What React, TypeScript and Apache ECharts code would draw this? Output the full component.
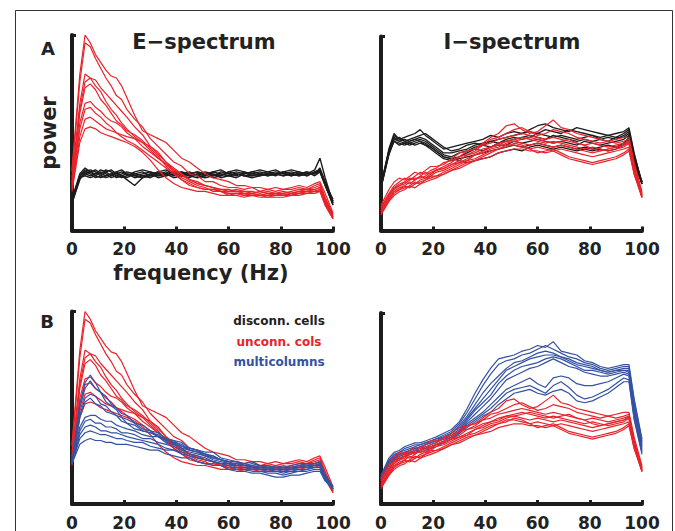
import React, { useEffect, useRef } from "react";
import * as echarts from "echarts";

// frequency sample points (Hz)
const FREQ = [0, 3, 5, 7, 9, 11, 13, 15, 17, 19, 21, 24, 27, 30, 33, 36, 39, 42, 45, 48, 51, 54, 57, 60, 63, 66, 69, 72, 75, 78, 81, 84, 87, 90, 93, 95, 97, 100];
const X_TICK_STEP = 20;

// E-spectrum, disconnected cells (black)
const E_DISCONN: number[][] = [
  [15, 28, 31, 30, 29, 31, 30, 28, 29, 30, 29, 28, 29, 30, 29, 28, 29, 30, 29, 28, 29, 30, 31, 29, 30, 29, 30, 31, 30, 29, 30, 31, 30, 29, 31, 37, 27, 14],
  [14, 27, 29, 30, 31, 29, 28, 29, 30, 28, 27, 29, 30, 28, 28, 29, 30, 28, 27, 29, 28, 29, 28, 30, 29, 28, 29, 30, 29, 30, 29, 28, 29, 30, 29, 32, 25, 15],
  [16, 28, 30, 29, 27, 28, 30, 31, 29, 28, 26, 23, 27, 29, 30, 31, 29, 28, 29, 30, 29, 28, 29, 28, 27, 29, 30, 29, 28, 29, 28, 29, 30, 28, 30, 31, 24, 13],
  [15, 27, 28, 27, 28, 30, 29, 27, 28, 29, 30, 29, 28, 27, 29, 30, 28, 29, 30, 28, 27, 28, 30, 29, 28, 30, 29, 28, 29, 28, 30, 29, 28, 29, 29, 30, 23, 14],
  [14, 26, 30, 31, 30, 28, 27, 28, 30, 31, 29, 27, 28, 29, 27, 28, 29, 30, 28, 29, 30, 29, 27, 28, 29, 28, 28, 29, 30, 31, 29, 30, 29, 28, 30, 31, 24, 16],
  [15, 27, 29, 28, 29, 29, 31, 30, 28, 27, 28, 30, 31, 30, 28, 29, 27, 28, 29, 30, 29, 27, 28, 30, 31, 30, 28, 29, 28, 29, 30, 28, 29, 30, 28, 30, 23, 13],
  [16, 29, 32, 30, 28, 27, 28, 29, 27, 28, 29, 28, 27, 28, 30, 29, 30, 29, 28, 27, 28, 30, 29, 28, 29, 28, 27, 28, 29, 29, 28, 29, 28, 29, 29, 31, 24, 15],
];

// E-spectrum, unconnected columns (red)
const E_UNCONN: number[][] = [
  [31, 80, 100, 96, 90, 86, 82, 79, 78, 74, 68, 59, 51, 49, 47, 45, 41, 37, 35, 32, 29, 27, 26, 25, 23, 23, 22, 22, 21, 22, 21, 22, 23, 22, 24, 25, 19, 9],
  [30, 76, 96, 94, 88, 83, 78, 74, 69, 67, 62, 57, 53, 47, 43, 39, 35, 33, 29, 28, 25, 25, 23, 22, 22, 21, 22, 20, 21, 20, 21, 21, 22, 21, 23, 24, 17, 8],
  [27, 65, 80, 78, 77, 73, 70, 67, 64, 61, 58, 53, 49, 43, 40, 35, 31, 29, 26, 24, 23, 22, 21, 20, 21, 20, 20, 19, 20, 19, 19, 20, 21, 21, 22, 23, 16, 7],
  [25, 62, 76, 78, 74, 71, 66, 62, 59, 55, 52, 48, 45, 41, 37, 34, 30, 27, 25, 23, 22, 20, 20, 19, 19, 18, 19, 18, 18, 19, 18, 19, 20, 20, 21, 22, 15, 7],
  [24, 60, 73, 75, 72, 67, 64, 60, 56, 54, 51, 49, 46, 42, 38, 33, 29, 26, 24, 22, 21, 21, 20, 18, 19, 19, 18, 18, 19, 18, 19, 18, 19, 20, 20, 21, 14, 6],
  [23, 55, 65, 66, 63, 61, 58, 56, 55, 53, 50, 47, 43, 40, 37, 34, 31, 28, 26, 25, 23, 22, 21, 21, 20, 20, 19, 20, 19, 19, 20, 19, 20, 21, 21, 22, 16, 8],
  [22, 52, 62, 63, 60, 58, 55, 53, 50, 49, 48, 47, 45, 43, 39, 35, 32, 29, 26, 24, 23, 22, 20, 20, 20, 19, 19, 18, 18, 18, 18, 19, 19, 20, 20, 21, 14, 7],
  [21, 48, 57, 58, 56, 54, 52, 51, 50, 48, 46, 44, 41, 38, 35, 32, 29, 26, 23, 22, 21, 21, 20, 19, 19, 18, 18, 18, 17, 18, 18, 18, 19, 19, 20, 20, 13, 6],
  [20, 45, 52, 53, 52, 50, 49, 48, 47, 46, 45, 43, 40, 36, 31, 27, 24, 22, 21, 20, 20, 19, 18, 18, 18, 17, 18, 17, 17, 17, 17, 18, 18, 19, 19, 20, 13, 6],
];

// E-spectrum, multicolumns (blue)
const E_MULTI: number[][] = [
  [21, 52, 63, 67, 63, 58, 56, 52, 50, 47, 46, 42, 41, 38, 37, 34, 33, 32, 29, 28, 27, 27, 24, 23, 22, 21, 22, 20, 20, 19, 19, 20, 21, 21, 21, 22, 15, 9],
  [21, 50, 60, 64, 60, 58, 53, 51, 49, 45, 44, 42, 39, 38, 35, 34, 33, 30, 29, 28, 26, 25, 23, 22, 22, 20, 21, 20, 19, 20, 19, 19, 20, 21, 20, 21, 15, 9],
  [21, 46, 55, 57, 56, 52, 51, 48, 46, 45, 42, 41, 38, 37, 36, 33, 32, 31, 28, 27, 26, 24, 23, 22, 20, 21, 19, 19, 18, 19, 18, 18, 19, 19, 20, 20, 14, 8],
  [21, 45, 53, 55, 52, 51, 48, 47, 46, 43, 42, 39, 38, 37, 35, 33, 32, 29, 28, 27, 25, 24, 23, 21, 21, 20, 19, 20, 18, 18, 17, 18, 19, 19, 20, 20, 14, 9],
  [21, 40, 45, 46, 46, 44, 43, 43, 41, 40, 39, 38, 36, 35, 35, 32, 31, 30, 28, 27, 26, 24, 23, 22, 22, 20, 20, 19, 19, 18, 18, 19, 19, 20, 20, 21, 14, 8],
  [21, 38, 43, 44, 42, 42, 40, 40, 39, 37, 37, 36, 34, 34, 32, 31, 30, 28, 27, 26, 25, 23, 22, 21, 20, 20, 19, 18, 18, 17, 17, 17, 18, 18, 19, 19, 13, 8],
  [21, 36, 40, 41, 40, 38, 38, 37, 37, 36, 35, 34, 33, 32, 31, 29, 28, 27, 26, 25, 24, 22, 21, 21, 19, 19, 18, 18, 17, 17, 16, 17, 17, 18, 19, 19, 13, 8],
  [21, 34, 37, 38, 37, 36, 36, 35, 34, 34, 33, 32, 32, 30, 29, 28, 28, 26, 25, 24, 23, 22, 21, 20, 18, 18, 17, 17, 16, 16, 15, 16, 17, 17, 18, 18, 12, 8],
  [21, 31, 33, 34, 33, 33, 32, 32, 31, 31, 31, 30, 29, 28, 28, 26, 25, 24, 24, 22, 21, 20, 20, 18, 17, 17, 16, 16, 15, 14, 14, 15, 15, 16, 17, 17, 12, 8],
];

// I-spectrum, disconnected cells (black)
const I_DISCONN: number[][] = [
  [23, 42, 50, 47, 48, 49, 50, 52, 49, 47, 45, 42, 43, 44, 45, 46, 47, 49, 48, 50, 51, 50, 52, 54, 55, 53, 52, 51, 53, 52, 51, 50, 49, 50, 51, 53, 40, 24],
  [22, 41, 49, 47, 46, 47, 48, 49, 50, 48, 46, 43, 41, 42, 44, 45, 44, 46, 47, 48, 49, 50, 51, 50, 52, 51, 50, 52, 51, 50, 49, 48, 49, 48, 50, 52, 39, 25],
  [23, 40, 48, 46, 47, 46, 47, 48, 47, 45, 43, 40, 40, 41, 42, 44, 45, 46, 45, 47, 48, 47, 48, 50, 49, 48, 49, 48, 47, 48, 49, 47, 48, 47, 49, 51, 38, 24],
  [24, 41, 47, 48, 46, 45, 46, 47, 46, 44, 42, 39, 38, 40, 41, 43, 44, 43, 45, 46, 47, 48, 49, 48, 47, 49, 48, 47, 46, 47, 46, 47, 46, 48, 48, 50, 37, 25],
  [22, 39, 47, 46, 45, 46, 47, 46, 45, 43, 41, 38, 37, 38, 40, 42, 41, 43, 44, 44, 46, 45, 46, 47, 46, 45, 46, 45, 44, 46, 45, 44, 45, 46, 47, 49, 36, 24],
  [23, 40, 46, 45, 44, 45, 44, 45, 44, 42, 40, 37, 36, 37, 38, 39, 40, 41, 42, 43, 44, 43, 44, 45, 44, 43, 44, 43, 42, 43, 42, 43, 44, 43, 45, 48, 35, 25],
  [22, 39, 46, 44, 45, 44, 45, 46, 44, 43, 41, 38, 37, 36, 35, 36, 37, 38, 40, 41, 42, 41, 43, 44, 43, 42, 43, 42, 41, 42, 41, 42, 41, 42, 44, 47, 34, 24],
];

// I-spectrum, unconnected columns (red)
const I_UNCONN: number[][] = [
  [13, 21, 25, 27, 26, 28, 30, 29, 31, 33, 33, 34, 37, 40, 41, 42, 45, 48, 50, 54, 55, 52, 50, 51, 54, 57, 53, 52, 50, 49, 48, 47, 46, 47, 48, 48, 35, 20],
  [12, 19, 23, 25, 27, 26, 28, 30, 29, 31, 32, 35, 36, 38, 41, 42, 44, 47, 48, 50, 52, 53, 51, 49, 50, 52, 51, 50, 48, 47, 46, 45, 46, 45, 46, 47, 33, 19],
  [11, 18, 22, 24, 25, 27, 26, 28, 30, 29, 31, 33, 35, 38, 39, 41, 44, 45, 47, 48, 49, 50, 49, 48, 47, 48, 47, 46, 45, 44, 45, 44, 43, 44, 45, 46, 32, 18],
  [10, 17, 21, 23, 25, 24, 26, 28, 27, 29, 31, 32, 34, 36, 39, 40, 42, 43, 45, 46, 47, 48, 47, 46, 45, 46, 45, 44, 43, 42, 43, 42, 41, 42, 43, 45, 31, 18],
  [12, 18, 22, 23, 24, 26, 27, 27, 28, 30, 31, 32, 34, 35, 37, 39, 41, 43, 44, 46, 46, 47, 48, 47, 46, 45, 46, 47, 45, 44, 42, 41, 42, 43, 44, 46, 32, 19],
  [9, 16, 20, 22, 23, 25, 24, 26, 27, 28, 30, 31, 33, 35, 36, 39, 40, 42, 43, 45, 46, 45, 44, 45, 44, 43, 44, 43, 42, 41, 40, 41, 42, 43, 44, 45, 31, 17],
  [8, 15, 19, 21, 22, 23, 25, 24, 26, 27, 28, 30, 32, 34, 36, 37, 39, 41, 42, 44, 44, 43, 42, 43, 42, 41, 42, 41, 40, 39, 38, 39, 40, 41, 42, 43, 30, 17],
  [10, 16, 20, 21, 23, 22, 24, 25, 26, 28, 28, 29, 31, 33, 35, 36, 38, 40, 42, 43, 45, 44, 42, 40, 41, 42, 40, 38, 37, 36, 35, 36, 37, 38, 40, 42, 29, 18],
  [9, 15, 18, 20, 21, 23, 22, 24, 25, 26, 27, 29, 31, 32, 34, 36, 37, 38, 40, 41, 42, 42, 41, 41, 40, 41, 39, 37, 36, 35, 34, 35, 36, 37, 39, 41, 29, 17],
];

// I-spectrum, multicolumns (blue)
const I_MULTI: number[][] = [
  [15, 24, 27, 28, 30, 31, 32, 32, 33, 34, 35, 37, 39, 43, 50, 58, 65, 71, 76, 77, 78, 80, 81, 83, 82, 85, 80, 79, 78, 75, 74, 72, 71, 72, 73, 73, 55, 34],
  [14, 23, 26, 27, 29, 30, 31, 31, 32, 33, 34, 36, 38, 42, 48, 55, 62, 68, 73, 75, 76, 78, 79, 81, 83, 81, 79, 77, 76, 74, 73, 71, 70, 71, 72, 72, 54, 33],
  [14, 22, 25, 27, 28, 29, 30, 31, 32, 33, 34, 35, 37, 41, 46, 52, 58, 63, 67, 71, 74, 75, 77, 79, 80, 79, 77, 76, 74, 73, 72, 70, 69, 70, 71, 71, 52, 32],
  [13, 22, 25, 26, 27, 28, 29, 30, 31, 32, 33, 35, 37, 40, 45, 50, 55, 60, 65, 70, 72, 74, 76, 77, 78, 78, 77, 75, 73, 72, 71, 70, 69, 70, 70, 70, 50, 31],
  [14, 21, 24, 26, 27, 28, 29, 30, 31, 32, 33, 34, 36, 39, 44, 49, 53, 57, 63, 67, 70, 72, 73, 74, 76, 77, 76, 74, 72, 70, 70, 69, 68, 69, 70, 69, 49, 30],
  [13, 21, 24, 25, 26, 27, 28, 29, 30, 31, 32, 34, 35, 38, 43, 47, 51, 55, 60, 65, 67, 69, 71, 72, 74, 76, 74, 72, 71, 69, 68, 67, 67, 68, 69, 68, 47, 29],
  [14, 22, 24, 25, 26, 27, 28, 28, 29, 30, 31, 33, 35, 38, 42, 45, 48, 52, 56, 60, 62, 64, 66, 63, 61, 66, 67, 66, 63, 62, 62, 63, 64, 66, 68, 67, 46, 28],
  [13, 21, 23, 24, 25, 26, 27, 28, 29, 30, 31, 32, 34, 37, 41, 44, 47, 50, 54, 58, 60, 61, 62, 60, 58, 62, 64, 61, 57, 55, 56, 58, 60, 63, 66, 65, 45, 27],
  [13, 20, 23, 24, 25, 26, 27, 27, 28, 29, 30, 32, 34, 37, 40, 43, 46, 48, 52, 55, 58, 59, 60, 58, 57, 59, 60, 58, 54, 53, 54, 56, 58, 61, 64, 64, 44, 26],
];

const TITLES = ["E\u2212spectrum", "I\u2212spectrum"];
const PANEL_LABELS = ["A", "B"];
const LEGEND_LABELS = ["disconn. cells", "unconn. cols", "multicolumns"];

const BLACK = "#1c1c1c";
const RED = "#e8232b";
const BLUE = "#3552a2";
const FONT = '"DejaVu Sans", "Liberation Sans", Arial, sans-serif';

function lineSeries(lines: number[][], color: string, axis: number, name: string, width: number) {
  return lines.map((vals) => ({
    type: "line",
    name,
    xAxisIndex: axis,
    yAxisIndex: axis,
    data: FREQ.map((f, i) => [f, vals[i]]),
    showSymbol: false,
    symbol: "none",
    silent: true,
    lineStyle: { color, width },
    itemStyle: { color },
  }));
}

export default function App() {
  const ref = useRef<HTMLDivElement>(null);

  useEffect(() => {
    if (!ref.current) return;
    const chart = echarts.init(ref.current, null, { renderer: "svg" });

    const grids = [
      { left: 72, top: 35, width: 261, height: 195.5 },
      { left: 381, top: 36.5, width: 261, height: 194 },
      { left: 72, top: 311.5, width: 261, height: 194.5 },
      { left: 381, top: 313, width: 261, height: 193 },
    ];

    const xAxes = grids.map((_, i) => ({
      gridIndex: i,
      type: "value",
      min: 0,
      max: 100,
      interval: X_TICK_STEP,
      axisLine: { show: true, onZero: false, lineStyle: { color: BLACK, width: 4 } },
      axisTick: { show: true, inside: true, length: 4, lineStyle: { color: BLACK, width: 3 } },
      axisLabel: {
        show: true,
        fontFamily: FONT,
        fontWeight: "bold",
        fontSize: 17,
        color: "#222",
        margin: 10,
      },
      splitLine: { show: false },
    }));

    const yAxes = grids.map((_, i) => ({
      gridIndex: i,
      type: "value",
      min: 0,
      max: 100,
      interval: 100,
      axisLine: { show: true, onZero: false, lineStyle: { color: BLACK, width: 4 } },
      axisTick: { show: true, inside: true, length: 4, lineStyle: { color: BLACK, width: 3 } },
      axisLabel: { show: false },
      splitLine: { show: false },
    }));

    const series = [
      ...lineSeries(E_DISCONN, BLACK, 0, LEGEND_LABELS[0], 1.4),
      ...lineSeries(E_UNCONN, RED, 0, LEGEND_LABELS[1], 1.2),
      ...lineSeries(I_DISCONN, BLACK, 1, LEGEND_LABELS[0], 1.3),
      ...lineSeries(I_UNCONN, RED, 1, LEGEND_LABELS[1], 1.2),
      ...lineSeries(E_UNCONN, RED, 2, LEGEND_LABELS[1], 1.2),
      ...lineSeries(E_MULTI, BLUE, 2, LEGEND_LABELS[2], 1.2),
      ...lineSeries(I_MULTI, BLUE, 3, LEGEND_LABELS[2], 1.2),
      ...lineSeries(I_UNCONN, RED, 3, LEGEND_LABELS[1], 1.2),
    ];

    const txt = (text: string, x: number, y: number, size: number, color: string, extra: any = {}) => ({
      type: "text",
      x,
      y,
      silent: true,
      ...extra,
      style: {
        text,
        fill: color,
        fontFamily: FONT,
        fontWeight: "bold",
        fontSize: size,
        textAlign: "center",
        textVerticalAlign: "middle",
      },
    });

    const graphic = [
      {
        type: "rect",
        silent: true,
        shape: { x: 15.5, y: 10.5, width: 657, height: 560 },
        style: { fill: "none", stroke: "#333", lineWidth: 1 },
      },
      txt(TITLES[0], 204, 42, 21, "#222"),
      txt(TITLES[1], 512, 42, 21, "#222"),
      txt(PANEL_LABELS[0], 48, 48, 18, "#222"),
      txt(PANEL_LABELS[1], 47, 321, 18, "#222"),
      txt("power", 49, 133, 21, "#222", { rotation: Math.PI / 2 }),
      txt("frequency (Hz)", 201, 273, 21, "#222"),
      txt(LEGEND_LABELS[0], 279, 321, 12, "#222"),
      txt(LEGEND_LABELS[1], 279, 341.5, 12, RED),
      txt(LEGEND_LABELS[2], 279, 362, 12, BLUE),
    ];

    chart.setOption({
      animation: false,
      backgroundColor: "#ffffff",
      grid: grids,
      xAxis: xAxes,
      yAxis: yAxes,
      series,
      graphic,
    });

    return () => chart.dispose();
  }, []);

  return (
    <div
      ref={ref}
      style={{ position: "absolute", left: 0, top: 0, width: 675, height: 531 }}
    />
  );
}
